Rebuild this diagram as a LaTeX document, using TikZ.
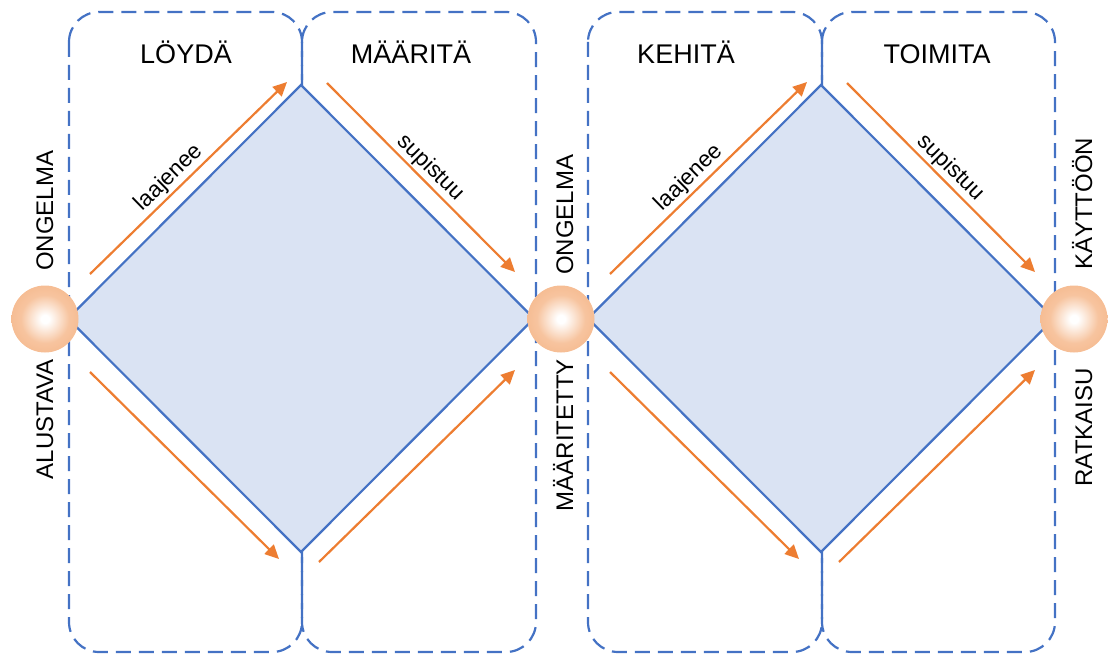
\documentclass[tikz,border=0pt]{standalone}
\usepackage{fontspec}
\setmainfont{Liberation Sans}
\usepackage{xcolor}
\usetikzlibrary{arrows.meta,shapes}

\definecolor{lineblue}{HTML}{4472C4}
\definecolor{fillblue}{HTML}{DAE3F3}
\definecolor{arroworange}{HTML}{ED7D31}
\definecolor{orbedge}{HTML}{F0A066}
\definecolor{orbouter}{HTML}{F4AE7C}
\definecolor{orbmid}{HTML}{F7C49F}

\pgfdeclareradialshading{orb}{\pgfpoint{0bp}{0bp}}{%
	color(0bp)=(white); color(3bp)=(white); color(18bp)=(orbmid);
	color(40bp)=(orbouter); color(50bp)=(orbedge)}

\begin{document}
\begin{tikzpicture}[x=1pt,y=-1pt,
	phase/.style={draw=lineblue,line width=2.2pt,dash pattern=on 15pt off 8pt,rounded corners=30pt},
	diam/.style={draw=lineblue,line width=2.2pt,fill=fillblue,line join=miter},
	flow/.style={draw=arroworange,line width=2.2pt,-{Triangle[length=14pt,width=13pt]}},
	orb/.style={circle,minimum size=67pt,inner sep=0pt,shading=orb},
	title/.style={font=\fontsize{27}{32}\selectfont,anchor=base,inner sep=0pt},
	side/.style={font=\fontsize{24}{28}\selectfont,rotate=90,inner sep=0pt},
	trend/.style={font=\fontsize{22.5}{26}\selectfont,sloped,above,inner sep=2pt}]
	\useasboundingbox (0,0) rectangle (1108,655);
	%
	% the four phases
	\draw[phase] (69,12) rectangle (302,652);
	\draw[phase] (302,12) rectangle (536,652);
	\draw[phase] (588,12) rectangle (822,652);
	\draw[phase] (822,12) rectangle (1055,652);
	%
	\node[title] (T1) at (186,64) {LÖYDÄ};
	\node[title] (T2) at (411,64) {MÄÄRITÄ};
	\node[title] (T3) at (686,64) {KEHITÄ};
	\node[title] (T4) at (937,64) {TOIMITA};
	%
	% diamonds with their arrows
	\foreach \i/\dx in {1/0,2/520}{
		\begin{scope}[xshift=\dx]
			\coordinate (L\i) at (68,318.5);
			\coordinate (U\i) at (301,85);
			\coordinate (R\i) at (534,318.5);
			\coordinate (D\i) at (301,552);
			\draw[diam] (L\i) -- (U\i) -- (R\i) -- (D\i) -- cycle;
			%
			\coordinate (a\i) at (90,274);
			\coordinate (a\i') at (287,82);
			\coordinate (b\i) at (327,83);
			\coordinate (b\i') at (515,272);
			\coordinate (c\i) at (90,372);
			\coordinate (c\i') at (279,559);
			\coordinate (d\i) at (319,562);
			\coordinate (d\i') at (515,370);
			\draw[flow] (a\i) -- node[trend,pos=0.45]{laajenee} (a\i');
			\draw[flow] (b\i) -- node[trend,pos=0.5]{supistuu} (b\i');
			\draw[flow] (c\i) -- (c\i');
			\draw[flow] (d\i) -- (d\i');
		\end{scope}
	}
	%
	% start, middle and end points
	\node[orb] (P1) at (45,319) {};
	\node[orb] (P2) at (561,319) {};
	\node[orb] (P3) at (1074,319) {};
	%
	\node[side,anchor=base west] (S1) at (53,271) {ONGELMA};
	\node[side,anchor=base east] (S2) at (53,359) {ALUSTAVA};
	\node[side,anchor=base west] (S3) at (573,275) {ONGELMA};
	\node[side,anchor=base east] (S4) at (573,359) {MÄÄRITETTY};
	\node[side,anchor=base west] (S5) at (1092,270) {KÄYTTÖÖN};
	\node[side,anchor=base east] (S6) at (1092,368) {RATKAISU};
\end{tikzpicture}
\end{document}
